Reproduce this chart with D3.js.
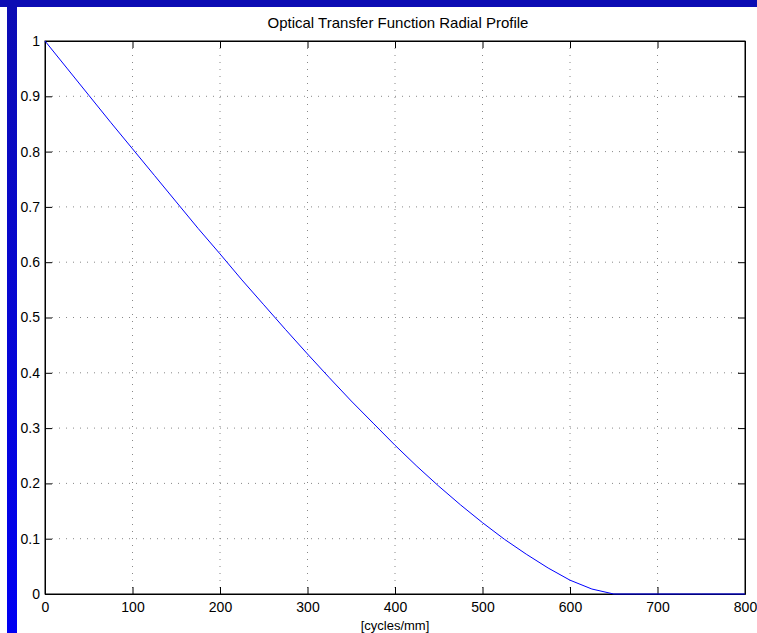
<!DOCTYPE html>
<html>
<head>
<meta charset="utf-8">
<script src="https://cdn.jsdelivr.net/npm/d3@7"></script>
<style>
  body { margin: 0; background: #fff; }
  svg { display: block; font-family: "Liberation Sans", Arial, sans-serif; }
</style>
</head>
<body>
<div id="chart"></div>
<script>
// spatial frequency [cycles/mm] and OTF value
const freq = [0, 25, 50, 75, 100, 125, 150, 175, 200, 225, 250, 275, 300, 325, 350, 375,
    400, 425, 450, 475, 500, 525, 550, 575, 600, 625, 650, 675, 700, 725, 750, 775, 800];
const otf = [1, 0.951, 0.902, 0.853, 0.805, 0.757, 0.709, 0.661, 0.615, 0.568, 0.523, 0.478,
    0.434, 0.391, 0.349, 0.309, 0.269, 0.231, 0.195, 0.161, 0.129, 0.099, 0.072, 0.047,
    0.025, 0.009, 0, 0, 0, 0, 0, 0, 0];
const xTicks = [0, 100, 200, 300, 400, 500, 600, 700, 800];
const yTicks = [0, 0.1, 0.2, 0.3, 0.4, 0.5, 0.6, 0.7, 0.8, 0.9, 1];

const W = 757, H = 633;
const margin = {top: 41, right: 12, bottom: 39, left: 45};
const width = W - margin.left - margin.right;
const height = H - margin.top - margin.bottom;

const svg = d3.select("#chart").append("svg")
    .attr("width", W)
    .attr("height", H);

// blue frame on top and left
const grad = svg.append("defs").append("linearGradient")
    .attr("id", "bar").attr("x1", 0).attr("y1", 0).attr("x2", 0).attr("y2", 1);
grad.append("stop").attr("offset", "0%").attr("stop-color", "#0c0cb4");
grad.append("stop").attr("offset", "100%").attr("stop-color", "#0000f2");
svg.append("rect").attr("x", 0).attr("y", 0).attr("width", W).attr("height", 7).attr("fill", "#0c0cb4");
svg.append("rect").attr("x", 7).attr("y", 7).attr("width", 10).attr("height", H - 7).attr("fill", "url(#bar)");

const g = svg.append("g")
    .attr("transform", `translate(${margin.left},${margin.top})`);

const x = d3.scaleLinear().domain([0, 800]).range([0, width]);
const y = d3.scaleLinear().domain([0, 1]).range([height, 0]);

// dotted grid
g.append("g").selectAll("line").data(xTicks.slice(1, -1)).join("line")
    .attr("x1", d => x(d)).attr("x2", d => x(d))
    .attr("y1", 0).attr("y2", height)
    .attr("stroke", "#888").attr("stroke-width", 1)
    .attr("stroke-dasharray", "1,6");
g.append("g").selectAll("line").data(yTicks.slice(1, -1)).join("line")
    .attr("x1", 0).attr("x2", width)
    .attr("y1", d => y(d)).attr("y2", d => y(d))
    .attr("stroke", "#888").attr("stroke-width", 1)
    .attr("stroke-dasharray", "1,6");

// axes, ticks inward
const fmt = d => d3.format("")(+d.toFixed(1));
const xAxis = g.append("g").attr("transform", `translate(0,${height})`)
    .call(d3.axisBottom(x).tickValues(xTicks).tickSizeInner(-7).tickSizeOuter(0).tickPadding(10));
const yAxis = g.append("g")
    .call(d3.axisLeft(y).tickValues(yTicks).tickFormat(fmt).tickSizeInner(-7).tickSizeOuter(0).tickPadding(5));
g.append("g").call(d3.axisTop(x).tickValues(xTicks).tickSizeInner(-7).tickSizeOuter(0).tickFormat(""));
g.append("g").attr("transform", `translate(${width},0)`)
    .call(d3.axisRight(y).tickValues(yTicks).tickSizeInner(-7).tickSizeOuter(0).tickFormat(""));

g.selectAll(".domain").attr("stroke", "#000").attr("stroke-width", 1);
g.selectAll(".tick line").attr("stroke", "#000");
g.selectAll(".tick text").attr("fill", "#000").attr("font-size", 14)
    .attr("font-family", "Liberation Sans, Arial, sans-serif");
xAxis.selectAll(".tick text").attr("dy", "0.71em").attr("y", 8);

// box
g.append("rect").attr("width", width).attr("height", height)
    .attr("fill", "none").attr("stroke", "#000").attr("stroke-width", 1);

// curve
const line = d3.line().x((d, i) => x(freq[i])).y(d => y(d));
g.append("path").datum(otf)
    .attr("d", line)
    .attr("fill", "none").attr("stroke", "#0000ff").attr("stroke-width", 1);

// title and label
svg.append("text").attr("x", 398).attr("y", 28)
    .attr("text-anchor", "middle").attr("font-size", 15).attr("fill", "#000")
    .text("Optical Transfer Function Radial Profile");
svg.append("text").attr("x", margin.left + width / 2).attr("y", 630)
    .attr("text-anchor", "middle").attr("font-size", 13).attr("fill", "#000")
    .text("[cycles/mm]");
</script>
</body>
</html>
